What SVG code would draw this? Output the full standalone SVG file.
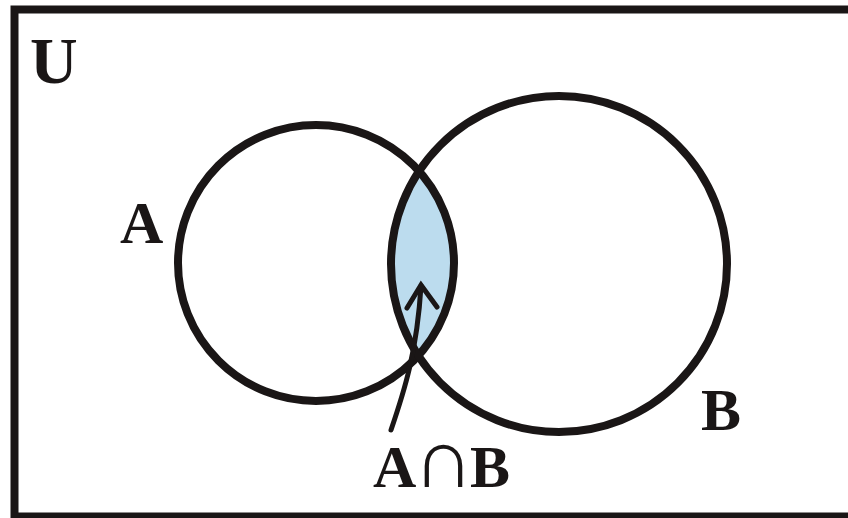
<svg xmlns="http://www.w3.org/2000/svg" width="848" height="518" viewBox="0 0 848 518">
  <style>
    .line { fill: none; stroke: #1a1616; stroke-width: 8; }
    .lbl { font-family: "Liberation Serif", "Times New Roman", "DejaVu Serif", serif; font-weight: bold; fill: #1a1616; }
    .arrow { fill: none; stroke: #1a1616; stroke-width: 5; stroke-linecap: round; stroke-linejoin: miter; }
  </style>
  <rect x="0" y="0" width="848" height="518" fill="#ffffff"/>
  <g id="universe">
    <rect class="line" x="14.5" y="9.5" width="840" height="507"/>
    <text class="lbl" x="30" y="83" font-size="66">U</text>
  </g>
  <g id="intersection">
    <path d="M 418.6 171 A 168 168 0 0 0 418.6 355 A 138 138 0 0 0 418.6 171 Z" fill="#bcdcee"/>
  </g>
  <g id="setA">
    <circle class="line" cx="316" cy="263" r="138"/>
    <text class="lbl" x="120" y="243" font-size="60">A</text>
  </g>
  <g id="setB">
    <circle class="line" cx="559" cy="264" r="168"/>
    <text class="lbl" x="701" y="430" font-size="60">B</text>
  </g>
  <g id="connectors">
    <path class="arrow" d="M 391 430 C 404 392 417 352 421 286"/>
    <path class="arrow" d="M 407 308 L 421 285 L 437 307"/>
  </g>
  <g id="label-intersection">
    <text class="lbl" y="487" font-size="60"><tspan x="373">A</tspan><tspan x="413" font-size="84" font-weight="normal">∩</tspan><tspan x="470">B</tspan></text>
  </g>
</svg>
